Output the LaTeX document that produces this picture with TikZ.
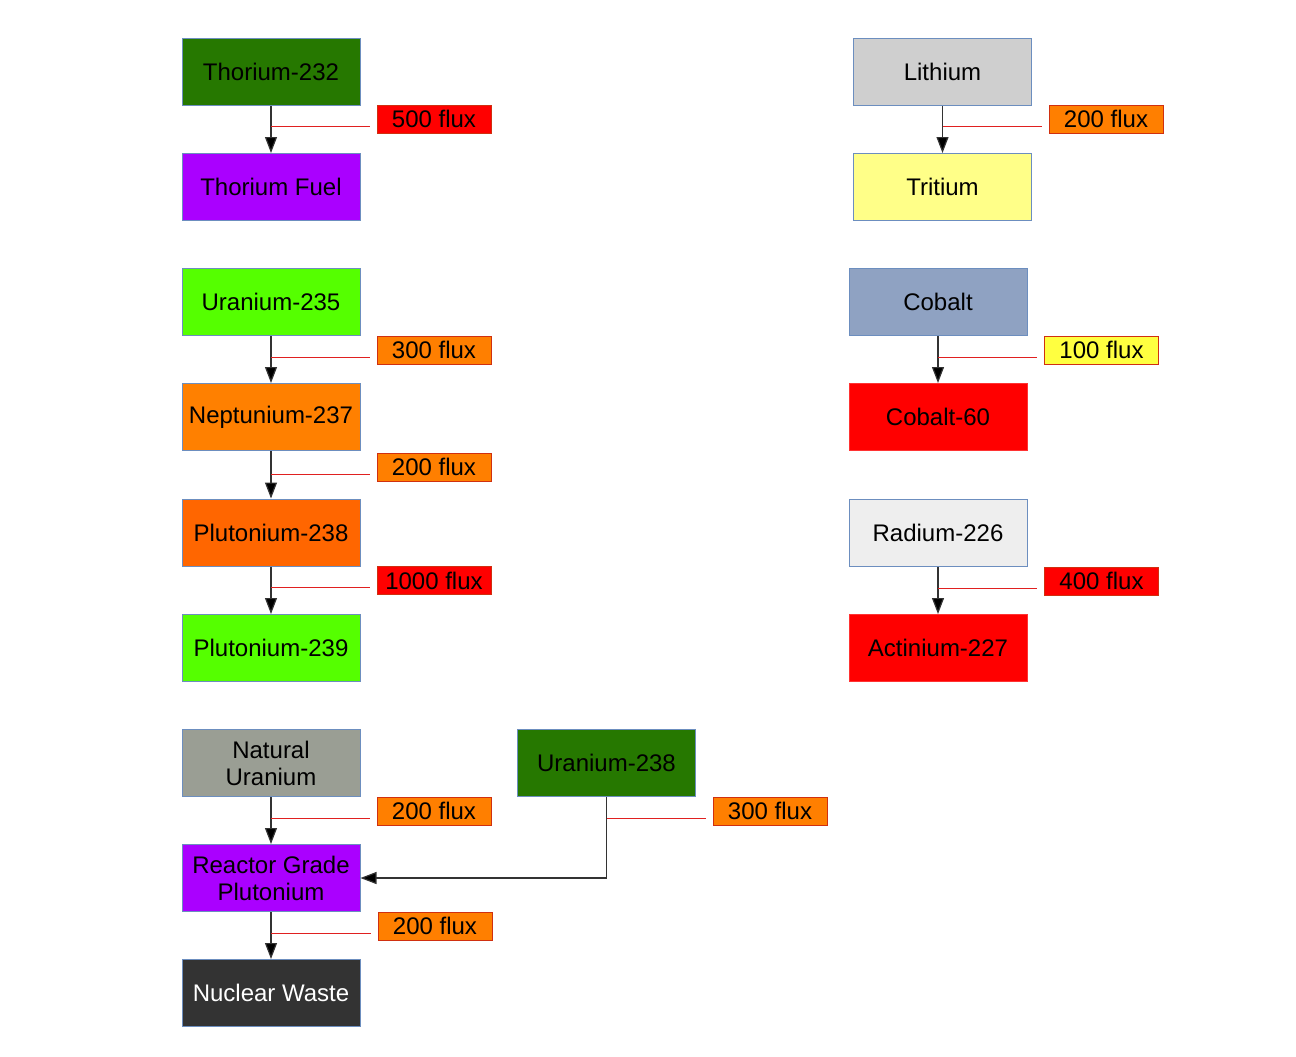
\documentclass[tikz,border=0pt]{standalone}
\usepackage{fontspec}
\setmainfont{Liberation Sans}
\usetikzlibrary{arrows.meta, calc, positioning}

\definecolor{thgreen}{HTML}{267800}
\definecolor{fuelpurple}{HTML}{AA00FF}
\definecolor{limegreen}{HTML}{55FF00}
\definecolor{nporange}{HTML}{FF8000}
\definecolor{puorange}{HTML}{FF6600}
\definecolor{natgray}{HTML}{9A9E94}
\definecolor{wastegray}{HTML}{333333}
\definecolor{ligray}{HTML}{CFCFCF}
\definecolor{trityellow}{HTML}{FFFF88}
\definecolor{coblue}{HTML}{8FA2C2}
\definecolor{rawhite}{HTML}{EEEEEE}
\definecolor{boxedge}{HTML}{6C8EBF}
\definecolor{tagorange}{HTML}{FF7F00}
\definecolor{tagyellow}{HTML}{FFFF40}
\definecolor{tagedge}{HTML}{D03010}
\definecolor{tagline}{HTML}{E02020}

\tikzset{
  isotope/.style={draw=boxedge, line width=0.5pt, minimum width=89pt, minimum height=33.5pt,
    inner sep=0pt, align=center, font=\fontsize{12pt}{13.5pt}\selectfont},
  hotbox/.style={isotope, draw=red!80},
  fluxtag/.style={draw=tagedge, line width=0.5pt, minimum width=57pt, minimum height=14pt,
    inner sep=0pt, font=\fontsize{12pt}{13.5pt}\selectfont},
  feed/.style={draw=black!80, line width=0.6pt, -{Triangle[length=8pt,width=6pt,fill=black]}},
  leader/.style={draw=tagline, line width=0.45pt}
}

\begin{document}
\begin{tikzpicture}[x=0.5pt, y=-0.5pt]
\useasboundingbox (0,0) rectangle (1296,1056);

% Thorium chain
\node[isotope, fill=thgreen] (th232) at (271,72) {Thorium-232};
\node[isotope, fill=fuelpurple] (thfuel) at (271,187) {Thorium Fuel};
\node[fluxtag, fill=red] (f500) at (434,119) {500 flux};
\draw[feed] (th232) -- (thfuel);
\draw[leader] ([yshift=-3.5pt]f500.west -| th232.south) -- ([xshift=-3.5pt,yshift=-3.5pt]f500.west);

% Uranium-235 chain
\node[isotope, fill=limegreen] (u235) at (271,302) {Uranium-235};
\node[isotope, fill=nporange] (np237) at (271,417) {Neptunium-237};
\node[isotope, fill=puorange] (pu238) at (271,532.5) {Plutonium-238};
\node[isotope, fill=limegreen] (pu239) at (271,648) {Plutonium-239};
\node[fluxtag, fill=tagorange] (f300a) at (434,350) {300 flux};
\node[fluxtag, fill=tagorange] (f200a) at (434,467) {200 flux};
\node[fluxtag, fill=red] (f1000) at (434,580.5) {1000 flux};
\draw[feed] (u235) -- (np237);
\draw[feed] (np237) -- (pu238);
\draw[feed] (pu238) -- (pu239);
\draw[leader] ([yshift=-3.5pt]f300a.west -| u235.south) -- ([xshift=-3.5pt,yshift=-3.5pt]f300a.west);
\draw[leader] ([yshift=-3.5pt]f200a.west -| np237.south) -- ([xshift=-3.5pt,yshift=-3.5pt]f200a.west);
\draw[leader] ([yshift=-3.5pt]f1000.west -| pu238.south) -- ([xshift=-3.5pt,yshift=-3.5pt]f1000.west);

% Natural uranium chain
\node[isotope, fill=natgray] (natu) at (271,763) {Natural\\Uranium};
\node[isotope, fill=fuelpurple] (rgpu) at (271,878) {Reactor Grade\\Plutonium};
\node[isotope, fill=wastegray, text=white] (waste) at (271,993) {Nuclear Waste};
\node[isotope, fill=thgreen] (u238) at (606.5,763) {Uranium-238};
\node[fluxtag, fill=tagorange] (f200b) at (434,811) {200 flux};
\node[fluxtag, fill=tagorange] (f300b) at (770,811) {300 flux};
\node[fluxtag, fill=tagorange] (f200c) at (435,926) {200 flux};
\draw[feed] (natu) -- (rgpu);
\draw[feed] (rgpu) -- (waste);
\draw[feed] (u238.south) |- (rgpu.east);
\draw[leader] ([yshift=-3.5pt]f200b.west -| natu.south) -- ([xshift=-3.5pt,yshift=-3.5pt]f200b.west);
\draw[leader] ([yshift=-3.5pt]f300b.west -| u238.south) -- ([xshift=-3.5pt,yshift=-3.5pt]f300b.west);
\draw[leader] ([yshift=-3.5pt]f200c.west -| rgpu.south) -- ([xshift=-3.5pt,yshift=-3.5pt]f200c.west);

% Right column
\node[isotope, fill=ligray] (li) at (942.5,72) {Lithium};
\node[isotope, fill=trityellow] (trit) at (942.5,187) {Tritium};
\node[fluxtag, fill=tagorange] (f200d) at (1106,119) {200 flux};
\draw[feed] (li) -- (trit);
\draw[leader] ([yshift=-3.5pt]f200d.west -| li.south) -- ([xshift=-3.5pt,yshift=-3.5pt]f200d.west);

\node[isotope, fill=coblue] (co) at (938,302) {Cobalt};
\node[hotbox, fill=red] (co60) at (938,417) {Cobalt-60};
\node[fluxtag, fill=tagyellow] (f100) at (1101.5,350) {100 flux};
\draw[feed] (co) -- (co60);
\draw[leader] ([yshift=-3.5pt]f100.west -| co.south) -- ([xshift=-3.5pt,yshift=-3.5pt]f100.west);

\node[isotope, fill=rawhite] (ra226) at (938,533) {Radium-226};
\node[hotbox, fill=red] (ac227) at (938,648) {Actinium-227};
\node[fluxtag, fill=red] (f400) at (1101.5,581) {400 flux};
\draw[feed] (ra226) -- (ac227);
\draw[leader] ([yshift=-3.5pt]f400.west -| ra226.south) -- ([xshift=-3.5pt,yshift=-3.5pt]f400.west);
\end{tikzpicture}
\end{document}
